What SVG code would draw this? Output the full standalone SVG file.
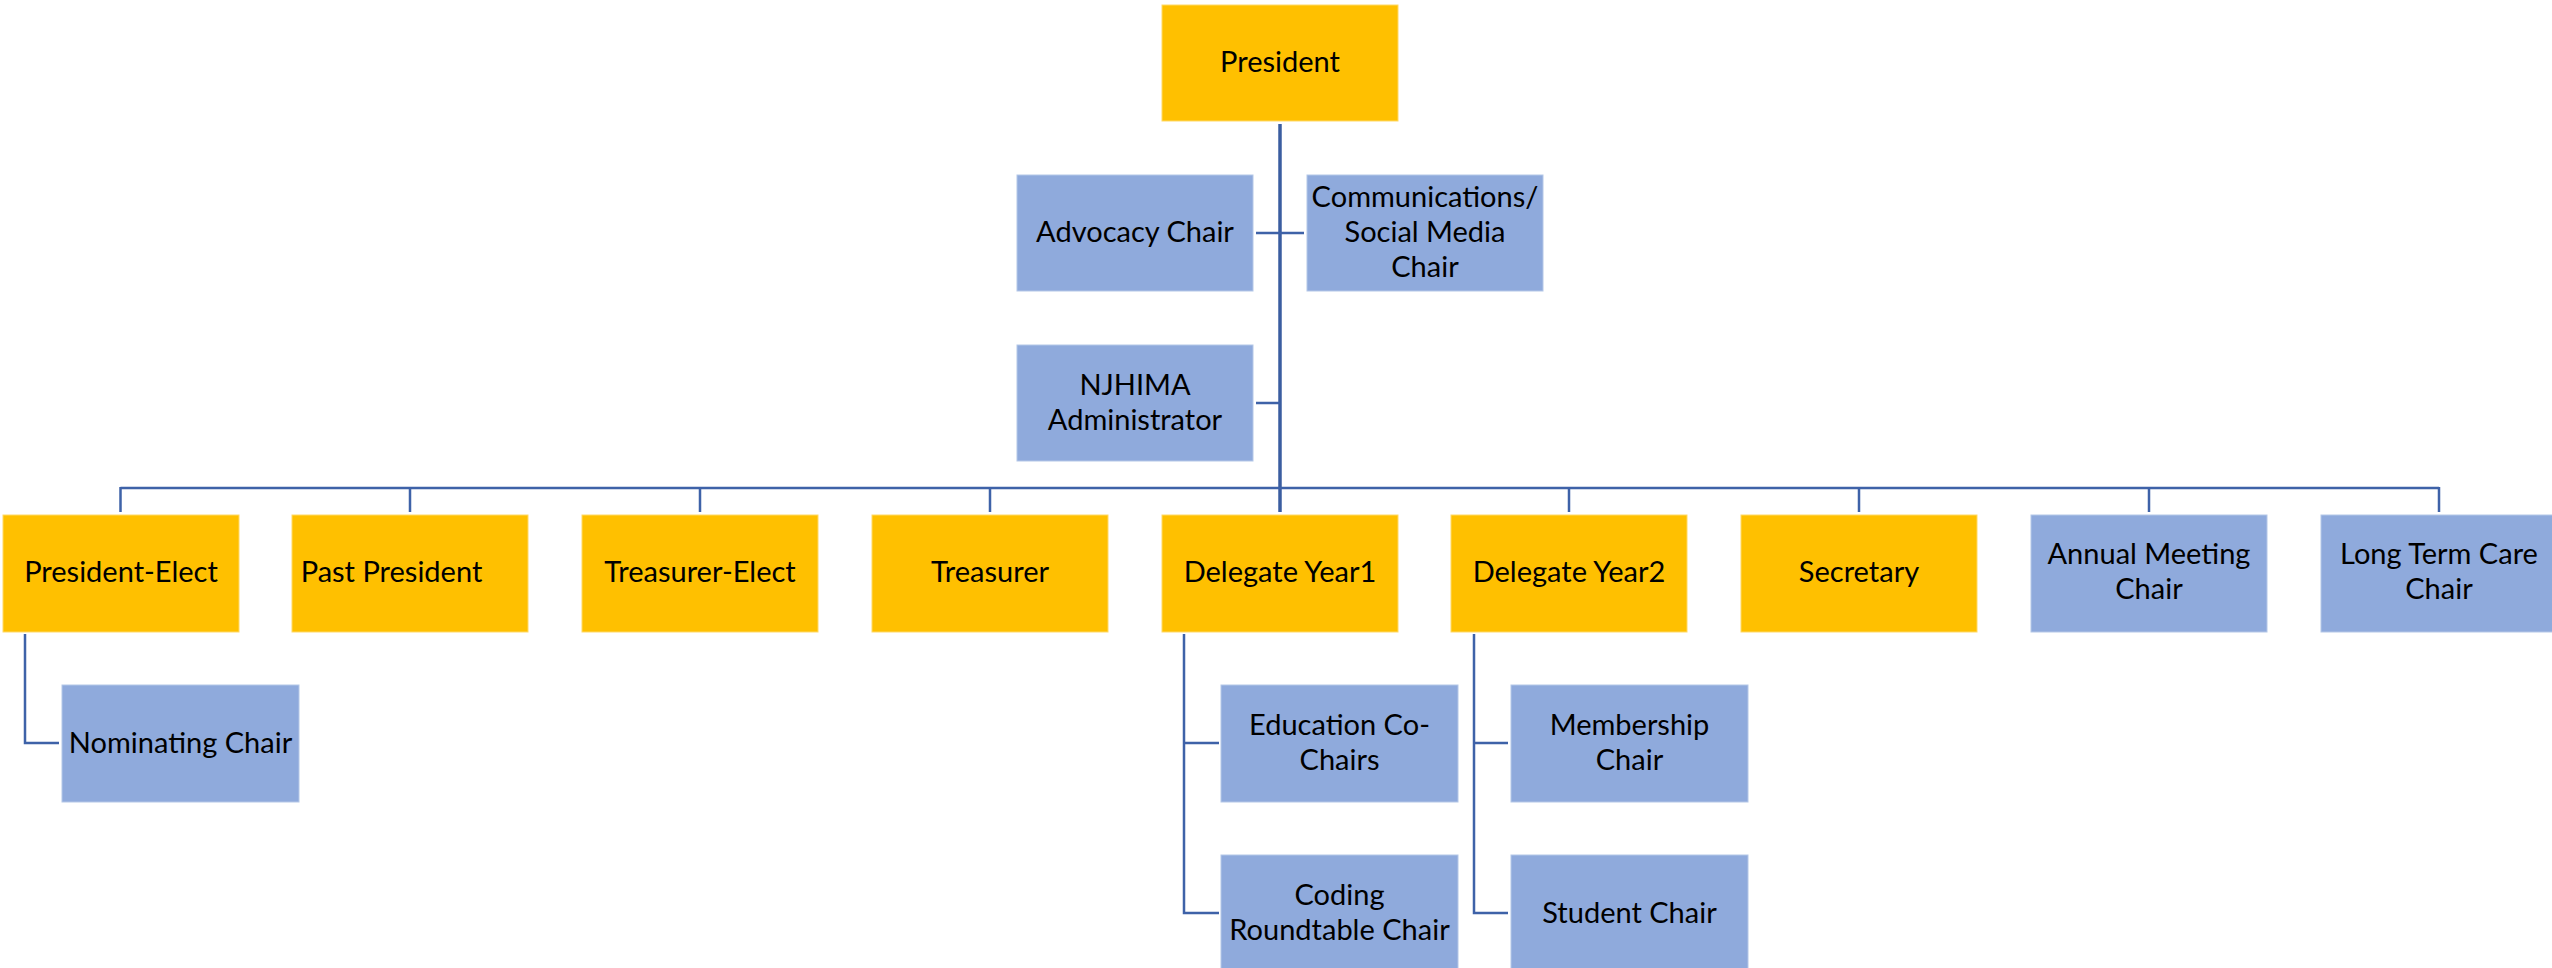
<svg xmlns="http://www.w3.org/2000/svg" width="2552" height="968" viewBox="0 0 2552 968">
<style>
.o{fill:#FFC000;stroke:#FFD966;stroke-width:1}
.b{fill:#8FAADC;stroke:#B4C7E7;stroke-width:1}
text{font-family:Lato,"Open Sans","Liberation Sans",sans-serif;font-size:29px;fill:#000;text-anchor:middle}
.c{fill:none;stroke:#3E62A8;stroke-width:2.5}
.t{fill:none;stroke:#3A5DA0;stroke-width:3.5}
</style>
<rect width="2552" height="968" fill="#fff"/>
<g id="connectors">
<path class="t" d="M1280 124V512"/>
<path class="c" d="M120.5 488H2439"/>
<path class="c" d="M120.5 487V512M410 488V512M700 488V512M990 488V512M1569 488V512M1859 488V512M2149 488V512M2439 487V512"/>
<path class="c" d="M1256 233H1304M1256 403H1280"/>
<path class="c" d="M25 634V743H59"/>
<path class="c" d="M1184 634V913H1219M1184 743H1219"/>
<path class="c" d="M1474 634V913H1508M1474 743H1508"/>
</g>
<g id="president"><rect class="o" x="1162" y="5" width="236" height="116"/><text x="1280" y="72">President</text></g>
<g id="advocacy"><rect class="b" x="1017" y="175" width="236" height="116"/><text x="1135" y="242">Advocacy Chair</text></g>
<g id="communications"><rect class="b" x="1307" y="175" width="236" height="116"/><text x="1425" y="207">Communications/</text><text x="1425" y="242">Social Media</text><text x="1425" y="277">Chair</text></g>
<g id="njhima"><rect class="b" x="1017" y="345" width="236" height="116"/><text x="1135" y="395">NJHIMA</text><text x="1135" y="430">Administrator</text></g>
<g id="president-elect"><rect class="o" x="3" y="515" width="236" height="117"/><text x="121" y="582">President-Elect</text></g>
<g id="past-president"><rect class="o" x="292" y="515" width="236" height="117"/><text x="391.5" y="582">Past President</text></g>
<g id="treasurer-elect"><rect class="o" x="582" y="515" width="236" height="117"/><text x="700" y="582">Treasurer-Elect</text></g>
<g id="treasurer"><rect class="o" x="872" y="515" width="236" height="117"/><text x="990" y="582">Treasurer</text></g>
<g id="delegate1"><rect class="o" x="1162" y="515" width="236" height="117"/><text x="1280" y="582">Delegate Year1</text></g>
<g id="delegate2"><rect class="o" x="1451" y="515" width="236" height="117"/><text x="1569" y="582">Delegate Year2</text></g>
<g id="secretary"><rect class="o" x="1741" y="515" width="236" height="117"/><text x="1859" y="582">Secretary</text></g>
<g id="annual-meeting"><rect class="b" x="2031" y="515" width="236" height="117"/><text x="2149" y="564">Annual Meeting</text><text x="2149" y="599">Chair</text></g>
<g id="long-term-care"><rect class="b" x="2321" y="515" width="236" height="117"/><text x="2439" y="564">Long Term Care</text><text x="2439" y="599">Chair</text></g>
<g id="nominating"><rect class="b" x="62" y="685" width="237" height="117"/><text x="180.5" y="753">Nominating Chair</text></g>
<g id="education"><rect class="b" x="1221" y="685" width="237" height="117"/><text x="1339.5" y="735">Education Co-</text><text x="1339.5" y="770">Chairs</text></g>
<g id="coding"><rect class="b" x="1221" y="855" width="237" height="117"/><text x="1339.5" y="905">Coding</text><text x="1339.5" y="940">Roundtable Chair</text></g>
<g id="membership"><rect class="b" x="1511" y="685" width="237" height="117"/><text x="1629.5" y="735">Membership</text><text x="1629.5" y="770">Chair</text></g>
<g id="student"><rect class="b" x="1511" y="855" width="237" height="117"/><text x="1629.5" y="923">Student Chair</text></g>
</svg>
